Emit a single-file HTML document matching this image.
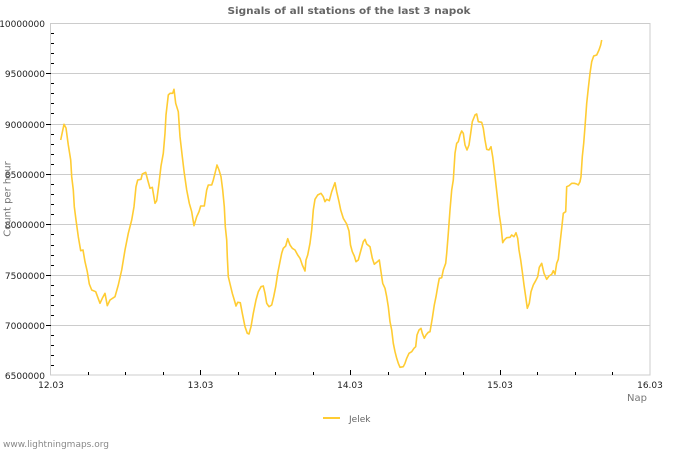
<!DOCTYPE html>
<html><head><meta charset="utf-8"><style>
html,body{margin:0;padding:0;background:#fff;}
svg{display:block;font-family:"DejaVu Sans","Liberation Sans",sans-serif;}
</style></head><body>
<svg width="700" height="450" viewBox="0 0 700 450" xmlns="http://www.w3.org/2000/svg">
<rect x="0" y="0" width="700" height="450" fill="#fff"/>
<text x="349" y="14" text-anchor="middle" font-size="10" font-weight="bold" fill="#666" textLength="243" lengthAdjust="spacingAndGlyphs">Signals of all stations of the last 3 napok</text>
<g stroke="#cccccc" stroke-width="1" shape-rendering="crispEdges">
<line x1="51" y1="73.5" x2="650" y2="73.5"/>
<line x1="51" y1="124.5" x2="650" y2="124.5"/>
<line x1="51" y1="174.5" x2="650" y2="174.5"/>
<line x1="51" y1="224.5" x2="650" y2="224.5"/>
<line x1="51" y1="275.5" x2="650" y2="275.5"/>
<line x1="51" y1="325.5" x2="650" y2="325.5"/>
<rect x="50.5" y="23.5" width="599.5" height="351.5" fill="none"/>
</g>
<g stroke="#000" stroke-width="1" shape-rendering="crispEdges">
<line x1="51" y1="33.5" x2="54" y2="33.5"/><line x1="51" y1="43.5" x2="54" y2="43.5"/><line x1="51" y1="53.5" x2="54" y2="53.5"/><line x1="51" y1="63.5" x2="54" y2="63.5"/>
<line x1="46" y1="73.5" x2="51" y2="73.5"/>
<line x1="51" y1="83.5" x2="54" y2="83.5"/><line x1="51" y1="93.5" x2="54" y2="93.5"/><line x1="51" y1="103.5" x2="54" y2="103.5"/><line x1="51" y1="113.5" x2="54" y2="113.5"/>
<line x1="46" y1="124.5" x2="51" y2="124.5"/>
<line x1="51" y1="134.5" x2="54" y2="134.5"/><line x1="51" y1="144.5" x2="54" y2="144.5"/><line x1="51" y1="154.5" x2="54" y2="154.5"/><line x1="51" y1="164.5" x2="54" y2="164.5"/>
<line x1="46" y1="174.5" x2="51" y2="174.5"/>
<line x1="51" y1="184.5" x2="54" y2="184.5"/><line x1="51" y1="194.5" x2="54" y2="194.5"/><line x1="51" y1="204.5" x2="54" y2="204.5"/><line x1="51" y1="214.5" x2="54" y2="214.5"/>
<line x1="46" y1="224.5" x2="51" y2="224.5"/>
<line x1="51" y1="234.5" x2="54" y2="234.5"/><line x1="51" y1="245.5" x2="54" y2="245.5"/><line x1="51" y1="255.5" x2="54" y2="255.5"/><line x1="51" y1="265.5" x2="54" y2="265.5"/>
<line x1="46" y1="275.5" x2="51" y2="275.5"/>
<line x1="51" y1="285.5" x2="54" y2="285.5"/><line x1="51" y1="295.5" x2="54" y2="295.5"/><line x1="51" y1="305.5" x2="54" y2="305.5"/><line x1="51" y1="315.5" x2="54" y2="315.5"/>
<line x1="46" y1="325.5" x2="51" y2="325.5"/>
<line x1="51" y1="335.5" x2="54" y2="335.5"/><line x1="51" y1="345.5" x2="54" y2="345.5"/><line x1="51" y1="355.5" x2="54" y2="355.5"/><line x1="51" y1="365.5" x2="54" y2="365.5"/>
<line x1="88.5" y1="372" x2="88.5" y2="375"/><line x1="125.5" y1="372" x2="125.5" y2="375"/><line x1="163.5" y1="372" x2="163.5" y2="375"/>
<line x1="200.5" y1="370" x2="200.5" y2="375"/>
<line x1="238.5" y1="372" x2="238.5" y2="375"/><line x1="275.5" y1="372" x2="275.5" y2="375"/><line x1="313.5" y1="372" x2="313.5" y2="375"/>
<line x1="350.5" y1="370" x2="350.5" y2="375"/>
<line x1="388.5" y1="372" x2="388.5" y2="375"/><line x1="425.5" y1="372" x2="425.5" y2="375"/><line x1="463.5" y1="372" x2="463.5" y2="375"/>
<line x1="500.5" y1="370" x2="500.5" y2="375"/>
<line x1="537.5" y1="372" x2="537.5" y2="375"/><line x1="575.5" y1="372" x2="575.5" y2="375"/><line x1="612.5" y1="372" x2="612.5" y2="375"/>
</g>
<g font-size="9" fill="#222" text-anchor="end">
<text x="45" y="27">10000000</text>
<text x="45" y="77">9500000</text>
<text x="45" y="128">9000000</text>
<text x="45" y="178">8500000</text>
<text x="45" y="228">8000000</text>
<text x="45" y="279">7500000</text>
<text x="45" y="329">7000000</text>
<text x="45" y="379">6500000</text>
</g>
<g font-size="9" fill="#222" text-anchor="middle">
<text x="51" y="388">12.03</text>
<text x="200.5" y="388">13.03</text>
<text x="350" y="388">14.03</text>
<text x="500" y="388">15.03</text>
<text x="650" y="388">16.03</text>
</g>
<text x="647" y="401" font-size="10" fill="#777" text-anchor="end">Nap</text>
<text transform="translate(10.5,199) rotate(-90)" font-size="10" fill="#777" text-anchor="middle">Count per hour</text>
<polyline fill="none" stroke="#ffcc33" stroke-width="1.6" stroke-linejoin="round" points="60.7,140 64,124.3 66,128 68.3,145 70.7,160 71.7,176.7 73.3,190 74.3,206.7 76,220 78.3,236.7 80.7,250.7 83,250 85,261.7 87.3,271.7 89.3,284 91.7,290 95.7,291.7 100,303.3 102.3,298.3 105,293.3 107.3,305.7 110,300 115,296.7 118.3,285 121.7,270 125,250 128.3,233.3 131.7,220 134,206.7 136,186.7 137.7,180 141,179.3 142.3,174 145.7,172.3 147.7,180 150,188.3 152.3,187.3 155,203.3 156.7,200.7 159,183.3 161,166 163.3,153.3 165,133.3 166,115 168.3,95 170,93.3 172.7,93.3 174,89.3 175.7,103.3 178.3,111.7 180,136.7 182.3,156.7 184.3,173.3 186.7,190 189.3,203.3 191.7,211.7 194,225.7 196.7,216.7 199,211.7 200.7,206 204.3,206 206.7,190 208.3,185 211.7,185 213.3,180 215,173.3 217,165 219,170 221,176.7 222.7,190 224.3,206.7 225.3,226.7 226.7,240 227.3,256.7 228.3,276.7 230.3,285 232.3,293.3 234.3,300 236,306 237.7,302.3 240.3,302.7 242.3,313.3 245,326.7 247.3,333.3 249,334 251,326.7 253.3,313.3 256,300 258.3,291.7 261,286.7 263.3,286 265,293.3 266.7,303.3 269,306.7 271.7,305 273.7,296.7 275.7,286.7 277.7,273.3 280,261.7 281.7,253.3 283.3,248.3 285.7,246 287.7,238.7 290,245 292.3,248.3 295,250 297.7,255 300,258.3 302.3,265 305,271 306,260 307.7,255 310,243.3 311.7,230 313.3,210 315,199.3 317.7,195 321,193.3 323.3,196.7 325,201.7 326.7,199.3 329.3,200.7 331.7,191.7 335,182.7 336.7,191.7 339,201.7 340.7,210 343.3,218.3 346.7,224 349,231 350.5,245 352.3,251.7 354.3,256 356,261.7 358.3,260 361,250 363.3,241.7 365,239.3 366.7,244 370,246.7 372.3,258.3 374.3,264.3 376.7,262.3 379.3,260 381,271.7 382.7,283.3 385,288.3 386.7,296.7 388.3,306.7 390,321.7 391.7,330 393.3,343.3 395,351.7 396.7,358.3 398.3,363.3 400,367.3 403.3,366.7 405,363.3 406.7,358.3 409,353.3 411.7,351.7 414,348.3 415.7,346.7 417,335 419,330 421,328.3 422.3,333.3 424.3,338.3 426,335 428.3,332.3 430,331.7 432.3,318.3 434.3,305 436,296.7 437.7,286.7 439.3,278.3 441.7,277.7 443.3,270 445.7,263.3 446.7,253.3 448.3,233.3 450,210 451.7,190 453.3,180 455,153.3 456.7,143.3 458.3,141.7 460,135 461.7,131 463.3,133.3 465,145 467,150 469,145 470.7,133.3 472.3,121.7 475,115 476.7,114 478.3,121.7 481.7,122.3 483.3,128.3 485,140 486.7,149.3 489,150 491,146.7 492.7,156.7 494.3,170 496,185 497.7,200 499.3,215 501,226 502.7,242.7 504.3,240 506.7,237.7 510,237.3 511.7,235 514,236.7 516,232.7 517.7,238.3 519,250 520.7,260 522.3,271.7 524,285 525.7,296.7 527.3,308.3 529.3,303.3 531,291.7 533.3,285 535.7,280.7 537.7,276.7 539.3,267.3 541.7,263.3 544,273.3 546.7,279.3 549,276 551.7,274.3 553.3,270.7 555,274.3 556.7,263.3 558.3,259.3 560,243.3 561.7,228.3 563.3,213.3 565.7,211.7 566.7,186.7 569,185.7 571.7,183.3 574.3,183.3 576.7,184 578.3,185 580,181.7 581,176.7 582.3,156.7 583.7,143.3 585,126.7 586.7,103.3 588.3,88.3 590,73.3 591.7,61.7 593.7,56 596.7,55 599,50 600.7,45 601.7,40"/>
<line x1="323" y1="418" x2="340" y2="418" stroke="#ffcc33" stroke-width="2"/>
<text x="349" y="422" font-size="9" fill="#666">Jelek</text>
<text x="3" y="447" font-size="9" fill="#888">www.lightningmaps.org</text>
</svg>
</body></html>
